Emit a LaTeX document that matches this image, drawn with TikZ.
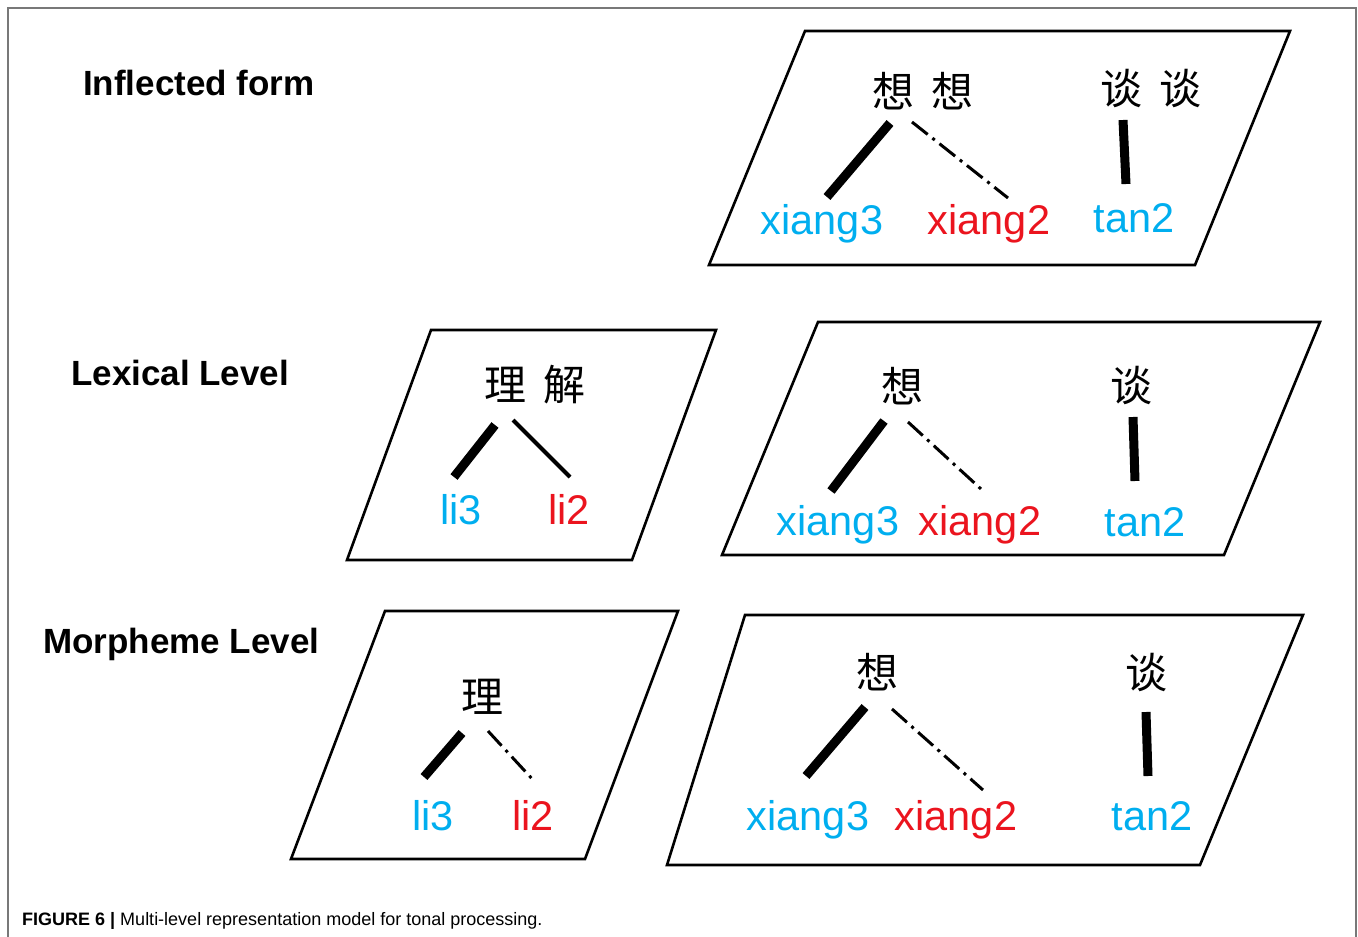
\documentclass[tikz,border=0pt]{standalone}
\usepackage{fontspec}
\setmainfont{Liberation Sans}
\newfontfamily\cjk{Noto Sans CJK SC}
\definecolor{tcyan}{RGB}{0,174,239}
\definecolor{tred}{RGB}{235,20,30}
\definecolor{framegray}{RGB}{120,120,120}
\tikzset{
  plane/.style={draw=black,line width=2.6pt,line join=miter},
  heading/.style={anchor=base west,inner sep=0pt,font=\fontsize{35}{38}\selectfont\bfseries},
  hanzi/.style={anchor=center,inner sep=0pt,font=\cjk\fontsize{42}{44}\selectfont},
  lab/.style={anchor=base,inner sep=0pt,font=\fontsize{41.5}{44}\selectfont},
  tone3/.style={lab,text=tcyan},
  tone2/.style={lab,text=tred},
  strong/.style={line width=9pt},
  plain/.style={line width=4pt},
  weak/.style={line width=3pt,dash pattern=on 20pt off 6pt on 3pt off 6pt},
}
\begin{document}
\begin{tikzpicture}[x=1pt,y=-1pt]
\useasboundingbox (0,0) rectangle (1358,937);
% outer frame
\draw[framegray,line width=1.5pt] (8,937) -- (8,8) -- (1356,8) -- (1356,937);

% headings
\node[heading] (hinf) at (83,95) {Inflected form};
\node[heading] (hlex) at (71,385) {Lexical Level};
\node[heading] (hmor) at (43,653) {Morpheme Level};
\node[anchor=base west,inner sep=0pt,font=\fontsize{18}{21}\selectfont] (cap) at (22,925)
  {\textbf{FIGURE 6 |} Multi-level representation model for tonal processing.};

% ---------- Inflected form plane ----------
\draw[plane] (805,31) -- (1290,31) -- (1195,265) -- (709,265) -- cycle;
\node[hanzi] (p1a) at (893,91) {想};
\node[hanzi] (p1b) at (952,91) {想};
\node[hanzi] (p1c) at (1121,89) {谈};
\node[hanzi] (p1d) at (1180,89) {谈};
\node[tone3] (p1x3) at (822,234) {xiang3};
\node[tone2] (p1x2) at (989,234) {xiang2};
\node[tone3] (p1t2) at (1134,232) {tan2};
\coordinate (p1s1) at (890,123); \coordinate (p1e1) at (827,197);
\coordinate (p1s2) at (912,122); \coordinate (p1e2) at (1008,198);
\coordinate (p1s3) at (1123,120); \coordinate (p1e3) at (1126,184);
\draw[strong] (p1s1) -- (p1e1);
\draw[weak] (p1s2) -- (p1e2);
\draw[strong] (p1s3) -- (p1e3);

% ---------- Lexical level, left ----------
\draw[plane] (431,330) -- (716,330) -- (632,560) -- (347,560) -- cycle;
\node[hanzi] (p2a) at (505,385) {理};
\node[hanzi] (p2b) at (564,385) {解};
\node[tone3] (p2l3) at (461,524) {li3};
\node[tone2] (p2l2) at (569,524) {li2};
\coordinate (p2s1) at (495,425); \coordinate (p2e1) at (454,477);
\coordinate (p2s2) at (513,420); \coordinate (p2e2) at (570,477);
\draw[strong] (p2s1) -- (p2e1);
\draw[plain] (p2s2) -- (p2e2);

% ---------- Lexical level, right ----------
\draw[plane] (818,322) -- (1320,322) -- (1224,555) -- (722,555) -- cycle;
\node[hanzi] (p3a) at (902,386) {想};
\node[hanzi] (p3b) at (1131,386) {谈};
\node[tone3] (p3x3) at (838,535) {xiang3};
\node[tone2] (p3x2) at (980,535) {xiang2};
\node[tone3] (p3t2) at (1145,536) {tan2};
\coordinate (p3s1) at (884,421); \coordinate (p3e1) at (831,491);
\coordinate (p3s2) at (908,422); \coordinate (p3e2) at (981,489);
\coordinate (p3s3) at (1133,417); \coordinate (p3e3) at (1135,481);
\draw[strong] (p3s1) -- (p3e1);
\draw[weak] (p3s2) -- (p3e2);
\draw[strong] (p3s3) -- (p3e3);

% ---------- Morpheme level, left ----------
\draw[plane] (385,611) -- (678,611) -- (585,859) -- (291,859) -- cycle;
\node[hanzi] (p4a) at (482,697) {理};
\node[tone3] (p4l3) at (433,830) {li3};
\node[tone2] (p4l2) at (533,830) {li2};
\coordinate (p4s1) at (462,733); \coordinate (p4e1) at (424,777);
\coordinate (p4s2) at (488,731); \coordinate (p4e2) at (535,782);
\draw[strong] (p4s1) -- (p4e1);
\draw[weak] (p4s2) -- (p4e2);

% ---------- Morpheme level, right ----------
\draw[plane] (745,615) -- (1303,615) -- (1200,865) -- (667,865) -- cycle;
\node[hanzi] (p5a) at (877,672) {想};
\node[hanzi] (p5b) at (1146,673) {谈};
\node[tone3] (p5x3) at (808,830) {xiang3};
\node[tone2] (p5x2) at (956,830) {xiang2};
\node[tone3] (p5t2) at (1152,830) {tan2};
\coordinate (p5s1) at (865,707); \coordinate (p5e1) at (806,776);
\coordinate (p5s2) at (892,709); \coordinate (p5e2) at (983,790);
\coordinate (p5s3) at (1146,712); \coordinate (p5e3) at (1148,776);
\draw[strong] (p5s1) -- (p5e1);
\draw[weak] (p5s2) -- (p5e2);
\draw[strong] (p5s3) -- (p5e3);
\end{tikzpicture}
\end{document}
